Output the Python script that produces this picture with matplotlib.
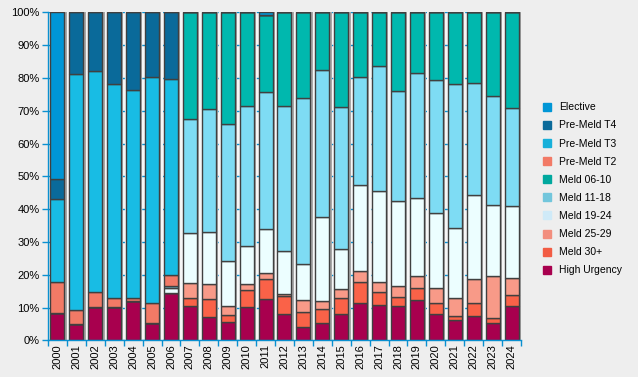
import matplotlib.pyplot as plt
import numpy as np

years = [str(y) for y in range(2000, 2025)]

# stacked from the bottom up
high_urgency = [8.2, 5.0, 10.1, 10.1, 12.0, 5.3, 14.5, 10.4, 7.0, 5.5, 10.1, 12.5, 7.9,
                4.1, 5.3, 7.9, 11.3, 10.8, 10.4, 12.2, 7.9, 6.1, 7.3, 5.3, 10.4]
meld_30 = [0, 0, 0, 0, 0, 0, 0, 2.4, 5.5, 2.1, 5.1, 6.3, 5.5,
           4.4, 4.2, 4.9, 6.4, 3.8, 2.7, 3.7, 3.4, 1.2, 4.0, 1.4, 3.3]
meld_25_29 = [0, 0, 0, 0, 0, 0, 0, 4.6, 4.6, 2.9, 2.1, 1.6, 0.8,
              3.7, 2.4, 2.7, 3.3, 3.1, 3.4, 3.6, 4.6, 5.5, 7.3, 12.8, 5.2]
meld_19_24 = [0, 0, 0, 0, 0, 0, 1.6, 15.2, 15.8, 13.6, 11.4, 13.4, 12.9,
              11.0, 25.6, 12.2, 26.3, 27.7, 25.9, 23.8, 22.8, 21.3, 25.6, 21.7, 22.0]
meld_11_18 = [0, 0, 0, 0, 0, 0, 0.5, 34.8, 37.5, 41.8, 42.6, 41.8, 44.2,
              50.6, 44.8, 43.3, 32.9, 38.1, 33.5, 38.1, 40.6, 43.9, 34.2, 33.2, 29.8]
meld_06_10 = [0, 0, 0, 0, 0, 0, 0, 32.6, 29.6, 34.1, 28.7, 23.5, 28.7,
              26.2, 17.7, 29.0, 19.8, 16.5, 24.1, 18.6, 20.7, 22.0, 21.6, 25.6, 29.3]
pre_t2 = [9.5, 4.3, 4.5, 2.7, 0.8, 6.0, 3.2, 0, 0, 0, 0, 0, 0,
          0, 0, 0, 0, 0, 0, 0, 0, 0, 0, 0, 0]
pre_t3 = [25.3, 71.8, 67.5, 65.2, 63.4, 69.1, 59.8, 0, 0, 0, 0, 0, 0,
          0, 0, 0, 0, 0, 0, 0, 0, 0, 0, 0, 0]
pre_t4 = [6.1, 18.9, 17.9, 22.0, 23.8, 19.6, 20.4, 0, 0, 0, 0, 0, 0,
          0, 0, 0, 0, 0, 0, 0, 0, 0, 0, 0, 0]
elective = [50.9, 0, 0, 0, 0, 0, 0, 0, 0, 0, 0, 0.9, 0,
            0, 0, 0, 0, 0, 0, 0, 0, 0, 0, 0, 0]

series = [
    ('High Urgency', high_urgency, '#a8004e'),
    ('Meld 30+', meld_30, '#fa6248'),
    ('Meld 25-29', meld_25_29, '#f89a88'),
    ('Meld 19-24', meld_19_24, '#ecfeff'),
    ('Meld 11-18', meld_11_18, '#7edcf4'),
    ('Meld 06-10', meld_06_10, '#00b8ae'),
    ('Pre-Meld T2', pre_t2, '#f27a66'),
    ('Pre-Meld T3', pre_t3, '#18bce4'),
    ('Pre-Meld T4', pre_t4, '#0a6a9a'),
    ('Elective', elective, '#0096d6'),
]
legend_colors = {'Meld 19-24': '#cfeaf8', 'Meld 11-18': '#72c6dc', 'Meld 06-10': '#00a89e',
                 'Meld 25-29': '#f28e7e', 'Meld 30+': '#f25c44', 'Pre-Meld T3': '#16b0da'}

blue = '#0a90d0'
fig = plt.figure(figsize=(6.38, 3.77), dpi=100, facecolor='#eeeeee')
ax = fig.add_axes([0.0752, 0.0973, 0.7414, 0.8701], facecolor='#f6f6f6')

x = np.arange(len(years))
w = 0.74
# shadows
ax.bar(x + 0.12, 100, w, color='#a8a8a8', zorder=1)
bottom = np.zeros(len(years))
handles = []
for name, vals, col in series:
    v = np.array(vals, dtype=float)
    ax.bar(x, v, w, bottom=bottom, color=col, edgecolor='#404040', linewidth=1, zorder=2)
    bottom += v
    handles.append(plt.Line2D([], [], marker='s', linestyle='', markersize=5.2,
                              color=legend_colors.get(name, col), label=name))

ax.set_xlim(-0.5, len(years) - 0.5)
ax.set_ylim(0, 100)
ax.set_yticks(range(0, 101, 10))
ax.set_yticklabels([f'{t}%' for t in range(0, 101, 10)], fontsize=8, family='Liberation Sans')
ax.set_xticks(x)
ax.set_xticklabels(years, rotation=90, fontsize=8, family='Liberation Sans')
ax.set_xticks(np.arange(-0.5, len(years)), minor=True)
ax.tick_params(axis='x', which='major', length=0, pad=3)
ax.tick_params(axis='x', which='minor', length=4, color=blue, width=1)
ax.tick_params(axis='y', length=4, color=blue, width=1, pad=2)
ax.yaxis.grid(True, color=blue, linestyle=(0, (2.5, 5)), linewidth=1)
ax.set_axisbelow(True)
for s in ['top', 'right']:
    ax.spines[s].set_visible(False)
for s in ['left', 'bottom']:
    ax.spines[s].set_color(blue)
    ax.spines[s].set_linewidth(1)
    ax.spines[s].set_zorder(5)

fig.legend(handles=handles[::-1], loc='center left', bbox_to_anchor=(0.8365, 0.499),
           frameon=False, prop={'family': 'Liberation Sans', 'size': 7.5},
           handletextpad=0.7, labelspacing=0.78, handlelength=0.8)

plt.savefig('out.png', dpi=100, facecolor=fig.get_facecolor())
